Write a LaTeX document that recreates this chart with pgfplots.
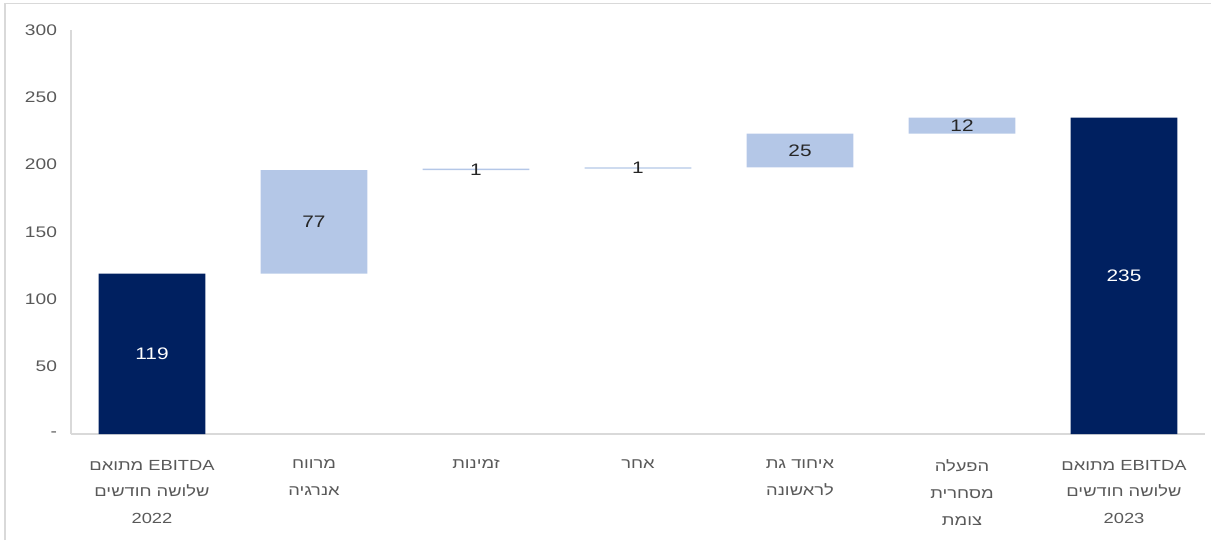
\documentclass[border=0pt]{standalone}
\usepackage{fontspec}
\setmainfont{Liberation Sans}[FakeStretch=1.25]
\newfontfamily\hebfont[Script=Hebrew,FakeStretch=1.25]{Liberation Sans}
\usepackage{pgfplots}
\pgfplotsset{compat=1.18}
\TeXXeTstate=1

\definecolor{navy}{HTML}{002060}
\definecolor{lightblue}{HTML}{B4C7E7}
\definecolor{ticktext}{HTML}{595959}
\definecolor{labeltext}{HTML}{262626}
\definecolor{gridgray}{HTML}{D9D9D9}

\begin{document}
\begin{tikzpicture}
\useasboundingbox (0,0) rectangle (908.25pt,405pt);
% outer chart frame
\draw[gray!30, line width=0.9pt] (3.75pt,0) -- (3.75pt,402.6pt) -- (908.25pt,402.6pt);

\pgfplotsset{
  wfgeom/.style={
    at={(53.25pt,79.5pt)}, anchor=south west,
    scale only axis, width=850.5pt, height=303pt,
    xmin=-0.5, xmax=6.5, ymin=0, ymax=300,
  }
}

\begin{axis}[
  wfgeom,
  ybar stacked, bar width=0.66,
  axis x line*=bottom, axis y line*=left,
  x axis line style={draw=gridgray, line width=0.8pt},
  y axis line style={draw=gridgray, line width=0.8pt},
  major tick length=0pt,
  xtick={0,...,6},
  xticklabels={
    {\beginR\beginL EBITDA\endL{} מתואם\endR\\\beginR שלושה חודשים\endR\\2022},
    {\beginR מרווח\endR\\\beginR אנרגיה\endR},
    {\beginR זמינות\endR},
    {\beginR אחר\endR},
    {\beginR איחוד גת\endR\\\beginR לראשונה\endR},
    {\beginR הפעלה\endR\\\beginR מסחרית\endR\\\beginR צומת\endR},
    {\beginR\beginL EBITDA\endL{} מתואם\endR\\\beginR שלושה חודשים\endR\\2023}
  },
  xticklabel style={font=\hebfont\fontsize{11}{20}\selectfont, text=ticktext,
    align=center, anchor=north, yshift=-16pt},
  ytick={0,50,...,300},
  yticklabels={-,50,100,150,200,250,300},
  yticklabel style={font=\fontsize{11.5}{13}\selectfont, text=ticktext, xshift=-7pt},
  /pgf/number format/assume math mode=true,
]
% invisible running base
\addplot[draw=none, fill=none] coordinates {(0,0) (1,119) (2,196) (3,197) (4,198) (5,223) (6,0)};
% totals
\addplot[draw=none, fill=navy] coordinates {(0,119) (1,0) (2,0) (3,0) (4,0) (5,0) (6,235)};
% changes
\addplot[draw=none, fill=lightblue] coordinates {(0,0) (1,77) (2,1) (3,1) (4,25) (5,12) (6,0)};
\end{axis}

% value labels, centred in each bar
\begin{axis}[
  wfgeom, hide axis,
]
\addplot[draw=none, mark=none, nodes near coords, point meta=explicit symbolic,
  nodes near coords style={anchor=center, text=white, font=\fontsize{12.5}{14}\selectfont}]
  coordinates {(0,59.5)[119] (6,117.5)[235]};
\addplot[draw=none, mark=none, nodes near coords, point meta=explicit symbolic,
  nodes near coords style={anchor=center, text=labeltext, font=\fontsize{12.5}{14}\selectfont}]
  coordinates {(1,157.5)[77] (2,196.5)[1] (3,197.5)[1] (4,210.5)[25] (5,229)[12]};
\end{axis}
\end{tikzpicture}
\end{document}
